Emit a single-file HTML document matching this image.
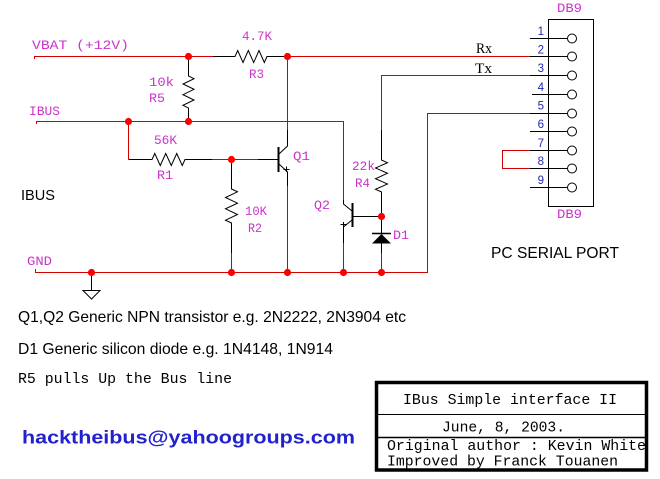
<!DOCTYPE html>
<html><head><meta charset="utf-8"><style>
html,body{margin:0;padding:0;background:#fff;}
svg{display:block;}
.m{fill:#cc33cc;font-family:"Liberation Mono",monospace;font-size:13px;}
.p{fill:#2525b0;font-family:"Liberation Sans",sans-serif;font-size:11.5px;}
</style></head><body>
<svg width="660" height="479" viewBox="0 0 660 479" xmlns="http://www.w3.org/2000/svg">
<rect width="660" height="479" fill="#fff"/>
<g fill="none" stroke="#d40000" stroke-width="1">
  <!-- VBAT -->
  <path d="M34.5,59 V56.5 H213"/>
  <!-- IBUS -->
  <path d="M36.5,124 V121.5 H343.5 V200"/>
  <!-- GND -->
  <path d="M35.5,269 V272.5 H427.5 V113.5 H530"/>
  <!-- Rx -->
  <path d="M287,56.5 H530"/>
  <!-- Q1 collector red -->
  <path d="M287.5,57 V130"/>
  <!-- Q1 emitter red -->
  <path d="M287.5,186 V272"/>
  <!-- IBUS down to R1 -->
  <path d="M128.5,121.5 V159.5"/>
  <path d="M212,159.5 H258"/>
  <!-- R2 bottom red -->
  <path d="M231.5,253 V272"/>
  <!-- Q2 emitter red -->
  <path d="M343.5,243 V272"/>
  <!-- Tx -->
  <path d="M381.5,130 V75.5 H530"/>
  <!-- D1 to gnd -->
  <path d="M381.5,253 V272"/>
  <!-- jumper 7-8 -->
  <path d="M530,150.5 H502.5 V168.5 H530"/>
</g>
<g fill="none" stroke="#000" stroke-width="1">
  <!-- R3 -->
  <path d="M213,56.5 H235 L237.7,50.5 L243,62.5 L248.3,50.5 L253.7,62.5 L259,50.5 L264.3,62.5 L267,56.5 H284"/>
  <!-- R5 -->
  <path d="M188.5,57 V76 L194,78.7 L183,84 L194,89.3 L183,94.7 L194,100 L183,105.3 L188.5,108 V121"/>
  <!-- R1 -->
  <path d="M128.5,159.5 H152 L154.75,153.5 L160.25,165.5 L165.75,153.5 L171.25,165.5 L176.75,153.5 L182.25,165.5 L185,159.5 H212"/>
  <!-- Q1 base -->
  <path d="M258,159.5 H278"/>
  <!-- R2 -->
  <path d="M231.5,160 V189 L237.5,191.8 L225.5,197.5 L237.5,203.2 L225.5,208.8 L237.5,214.5 L225.5,220.2 L231.5,223 V253"/>
  <!-- Q1 -->
  <path d="M287.5,130 V146 L279,154"/>
  <path d="M279,164 L287.5,172 V186"/>
  <path d="M283.5,169.5 H289.5 M286.5,166.5 V172"/>
  <!-- Q2 -->
  <path d="M343.5,200 V204 L352,211"/>
  <path d="M352,220 L343.5,227 V243"/>
  <path d="M340.5,224.5 H346.5 M343.5,222 V227"/>
  <path d="M353,216.5 H381"/>
  <!-- R4 -->
  <path d="M381.5,130 V160 L387.5,162.7 L375.5,168 L387.5,173.3 L375.5,178.7 L387.5,184 L375.5,189.3 L381.5,192 V233"/>
  <path d="M381.5,243 V253"/>
  <!-- ground symbol -->
  <path d="M91.5,272 V290.5 M83,290.5 H100 L91.5,299 Z"/>
  <!-- connector -->
  <rect x="548.5" y="19.5" width="45" height="187"/>
  <path d="M530,38.5 H567.5 M530,56.5 H567.5 M530,75.5 H567.5 M532,94.5 H567.5 M530,113.5 H567.5 M530,131.5 H567.5 M530,150.5 H567.5 M530,168.5 H567.5 M530,187.5 H567.5"/>
  <circle cx="572" cy="38.5" r="4.5"/>
  <circle cx="572" cy="56.5" r="4.5"/>
  <circle cx="572" cy="75.5" r="4.5"/>
  <circle cx="572" cy="94.5" r="4.5"/>
  <circle cx="572" cy="113.5" r="4.5"/>
  <circle cx="572" cy="131.5" r="4.5"/>
  <circle cx="572" cy="150.5" r="4.5"/>
  <circle cx="572" cy="168.5" r="4.5"/>
  <circle cx="572" cy="187.5" r="4.5"/>
</g>
<!-- transistor bars -->
<g stroke="#000" stroke-width="2">
  <line x1="278.5" y1="147" x2="278.5" y2="172"/>
  <line x1="352.5" y1="203" x2="352.5" y2="227"/>
  <line x1="372" y1="233.5" x2="391" y2="233.5" stroke-width="1.5"/>
</g>
<polygon points="381.5,234 372,243.5 391,243.5" fill="#000"/>
<!-- dots -->
<g fill="#f00">
  <circle cx="188.5" cy="56.5" r="3.6"/>
  <circle cx="287.5" cy="56.5" r="3.6"/>
  <circle cx="128.5" cy="121.5" r="3.6"/>
  <circle cx="188.5" cy="121.5" r="3.6"/>
  <circle cx="231.5" cy="159.5" r="3.6"/>
  <circle cx="381.5" cy="216.5" r="3.6"/>
  <circle cx="91.5" cy="272.5" r="3.6"/>
  <circle cx="231.5" cy="272.5" r="3.6"/>
  <circle cx="287.5" cy="272.5" r="3.6"/>
  <circle cx="343.5" cy="272.5" r="3.6"/>
  <circle cx="381.5" cy="272.5" r="3.6"/>
</g>
<!-- magenta labels -->
<text class="m" x="32" y="49" font-size="14" textLength="97" lengthAdjust="spacingAndGlyphs">VBAT (+12V)</text>
<text class="m" x="242" y="40" textLength="30" lengthAdjust="spacingAndGlyphs">4.7K</text>
<text class="m" x="249" y="78" textLength="15" lengthAdjust="spacingAndGlyphs">R3</text>
<text class="m" x="149" y="86" font-size="14" textLength="25" lengthAdjust="spacingAndGlyphs">10k</text>
<text class="m" x="149" y="102" textLength="16" lengthAdjust="spacingAndGlyphs">R5</text>
<text class="m" x="29" y="115" textLength="31" lengthAdjust="spacingAndGlyphs">IBUS</text>
<text class="m" x="154" y="144" textLength="23" lengthAdjust="spacingAndGlyphs">56K</text>
<text class="m" x="157" y="179" textLength="16" lengthAdjust="spacingAndGlyphs">R1</text>
<text class="m" x="245" y="215" textLength="22" lengthAdjust="spacingAndGlyphs">10K</text>
<text class="m" x="248" y="232" textLength="14" lengthAdjust="spacingAndGlyphs">R2</text>
<text class="m" x="293" y="160" textLength="17" lengthAdjust="spacingAndGlyphs">Q1</text>
<text class="m" x="314" y="209" textLength="16" lengthAdjust="spacingAndGlyphs">Q2</text>
<text class="m" x="352" y="170" textLength="23" lengthAdjust="spacingAndGlyphs">22k</text>
<text class="m" x="355" y="187" textLength="15" lengthAdjust="spacingAndGlyphs">R4</text>
<text class="m" x="393" y="239" textLength="16" lengthAdjust="spacingAndGlyphs">D1</text>
<text class="m" x="27" y="265" textLength="25" lengthAdjust="spacingAndGlyphs">GND</text>
<text class="m" x="557" y="12" textLength="25" lengthAdjust="spacingAndGlyphs">DB9</text>
<text class="m" x="557" y="218" textLength="25" lengthAdjust="spacingAndGlyphs">DB9</text>
<!-- Rx Tx -->
<text x="476" y="53" font-family="Liberation Serif,serif" font-size="15" textLength="16" lengthAdjust="spacingAndGlyphs" fill="#000">Rx</text>
<text x="475" y="73" font-family="Liberation Serif,serif" font-size="15" textLength="17" lengthAdjust="spacingAndGlyphs" fill="#000">Tx</text>
<!-- pin numbers -->
<g class="p" text-anchor="end">
  <text x="544" y="35">1</text>
  <text x="544" y="53.5">2</text>
  <text x="544" y="72">3</text>
  <text x="544" y="91">4</text>
  <text x="544" y="109.5">5</text>
  <text x="544" y="128">6</text>
  <text x="544" y="147">7</text>
  <text x="544" y="165">8</text>
  <text x="544" y="184">9</text>
</g>
<!-- black labels -->
<text x="21" y="200" font-family="Liberation Sans,sans-serif" font-size="15" textLength="34" lengthAdjust="spacingAndGlyphs" fill="#000">IBUS</text>
<text x="491" y="258" font-family="Liberation Sans,sans-serif" font-size="16" textLength="128" lengthAdjust="spacingAndGlyphs" fill="#000">PC SERIAL PORT</text>
<text x="18" y="322" font-family="Liberation Sans,sans-serif" font-size="16" textLength="388" lengthAdjust="spacingAndGlyphs" fill="#000">Q1,Q2 Generic NPN transistor e.g. 2N2222, 2N3904 etc</text>
<text x="18" y="354" font-family="Liberation Sans,sans-serif" font-size="16" textLength="315" lengthAdjust="spacingAndGlyphs" fill="#000">D1 Generic silicon diode e.g. 1N4148, 1N914</text>
<text x="18" y="383" font-family="Liberation Mono,monospace" font-size="14.5" textLength="214" lengthAdjust="spacingAndGlyphs" fill="#000">R5 pulls Up the Bus line</text>
<text x="22" y="443.5" font-family="Liberation Sans,sans-serif" font-weight="bold" font-size="18" textLength="333" lengthAdjust="spacingAndGlyphs" fill="#2222cc">hacktheibus@yahoogroups.com</text>
<!-- title block -->
<rect x="376.5" y="382.5" width="270" height="87.5" fill="none" stroke="#000" stroke-width="3.5"/>
<line x1="377" y1="414.5" x2="646" y2="414.5" stroke="#000" stroke-width="1"/>
<line x1="377" y1="437.5" x2="646" y2="437.5" stroke="#000" stroke-width="1.5"/>
<g font-family="Liberation Mono,monospace" font-size="14.8" fill="#000">
  <text x="403" y="404" textLength="214" lengthAdjust="spacingAndGlyphs">IBus Simple interface II</text>
  <text x="442" y="431.5" textLength="123" lengthAdjust="spacingAndGlyphs">June, 8, 2003.</text>
  <text x="387" y="450" textLength="259" lengthAdjust="spacingAndGlyphs">Original author : Kevin White</text>
  <text x="387" y="465.5" textLength="231" lengthAdjust="spacingAndGlyphs">Improved by Franck Touanen</text>
</g>
</svg>
</body></html>
